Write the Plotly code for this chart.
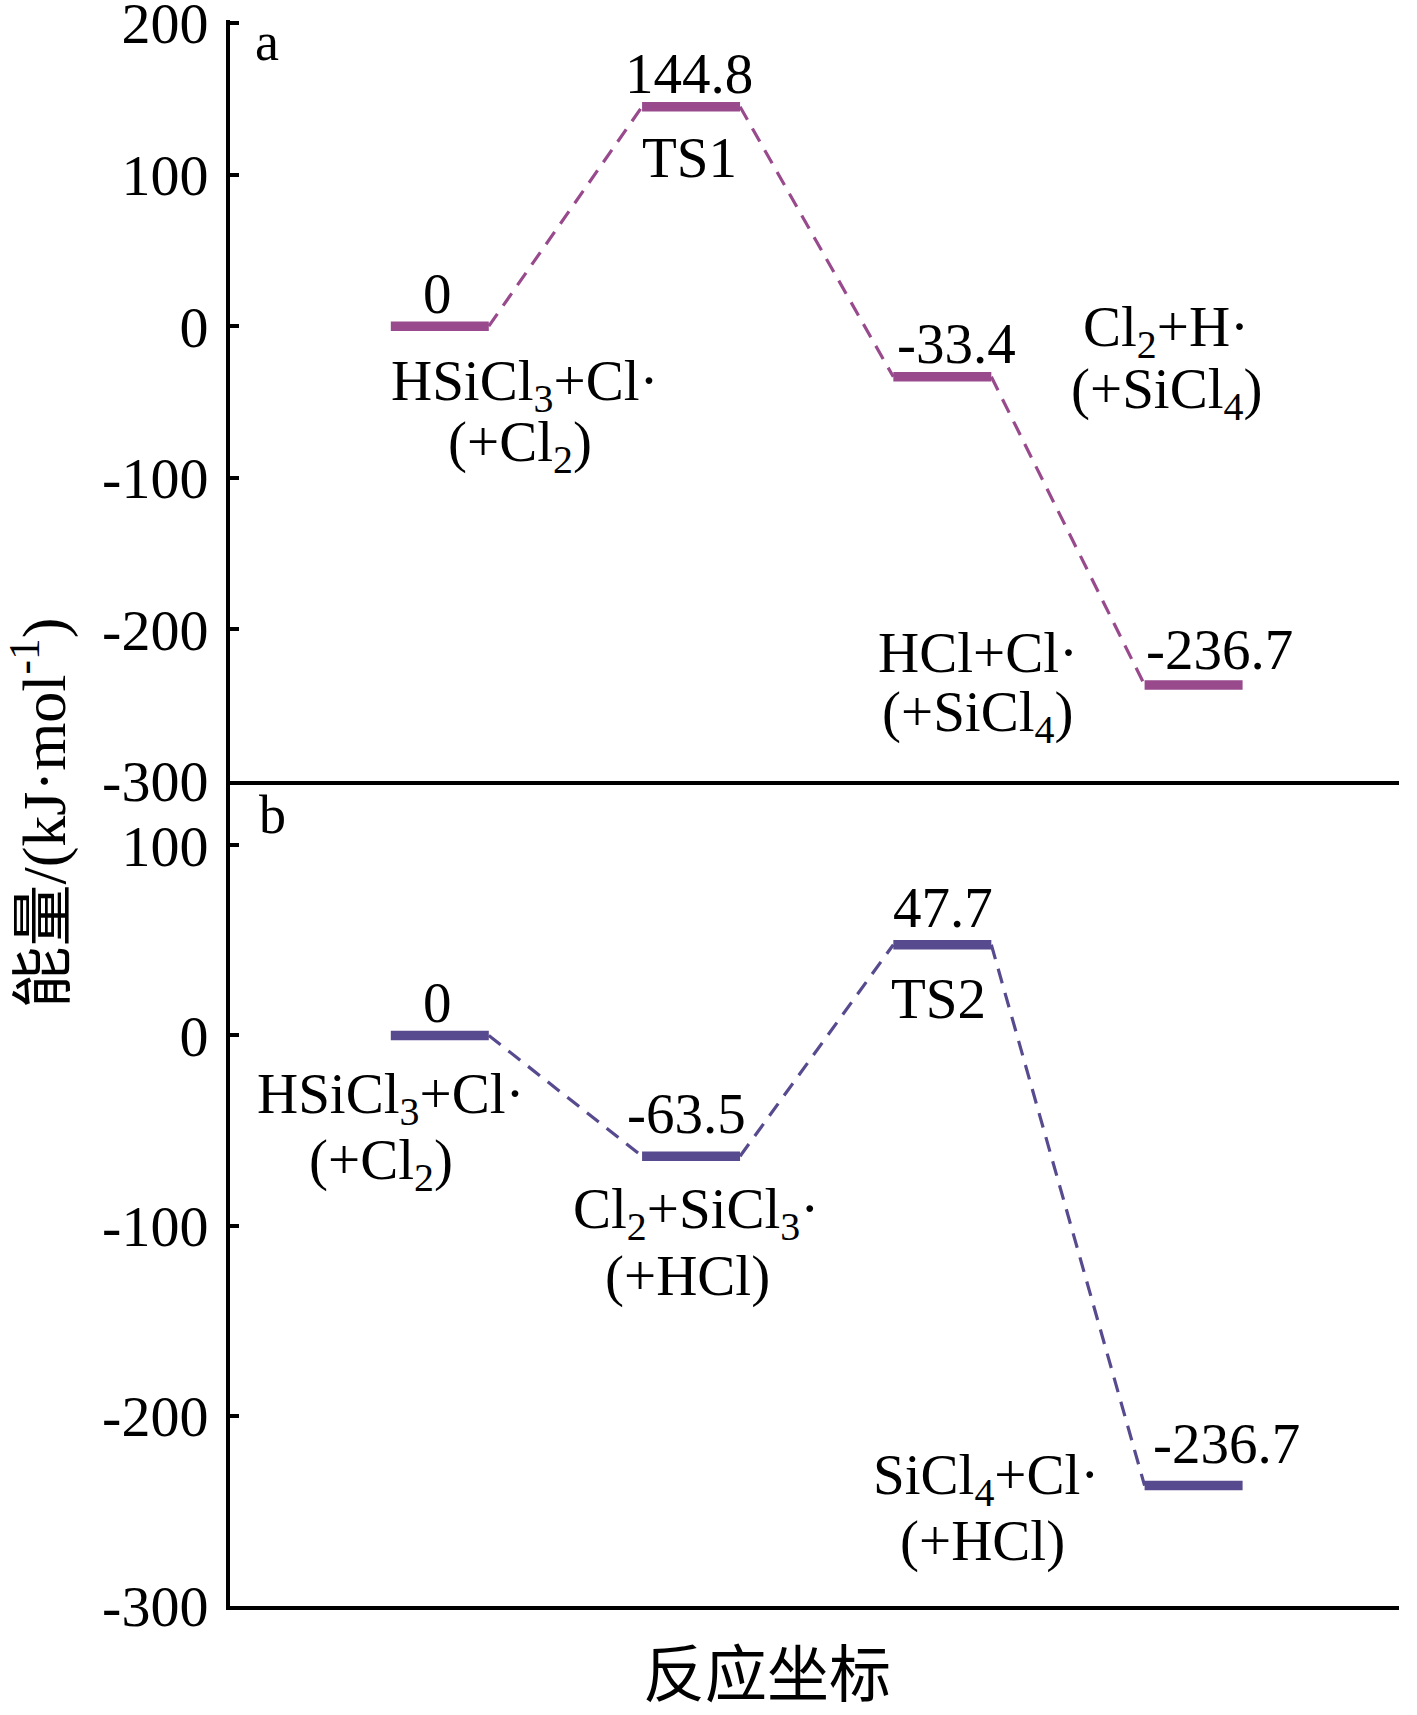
import plotly.graph_objects as go

# ---------------- data ----------------
stages = [1, 2, 3, 4]

energy_a = [0, 144.8, -33.4, -236.7]
value_labels_a = ["0", "144.8", "-33.4", "-236.7"]
species_a = [
    ["HSiCl<sub>3</sub>+Cl·", "(+Cl<sub>2</sub>)"],
    ["TS1"],
    ["Cl<sub>2</sub>+H·", "(+SiCl<sub>4</sub>)"],
    ["HCl+Cl·", "(+SiCl<sub>4</sub>)"],
]

energy_b = [0, -63.5, 47.7, -236.7]
value_labels_b = ["0", "-63.5", "47.7", "-236.7"]
species_b = [
    ["HSiCl<sub>3</sub>+Cl·", "(+Cl<sub>2</sub>)"],
    ["Cl<sub>2</sub>+SiCl<sub>3</sub>·", "(+HCl)"],
    ["TS2"],
    ["SiCl<sub>4</sub>+Cl·", "(+HCl)"],
]

y_ticks_a = [200, 100, 0, -100, -200, -300]
y_ticks_b = [100, 0, -100, -200, -300]

y_title = "能量/(kJ·mol<sup>-1</sup>)"
x_title = "反应坐标"
panel_tags = ["a", "b"]

# ---------------- style ----------------
COLOR_A = "#984A8D"
COLOR_B = "#584A8E"
HALF = 0.195
FONT = "Liberation Serif, Times New Roman, Noto Sans CJK SC, serif"
FS = 57

# pixel offsets (dx, dy_down) for labels
value_off_a = [(-2, -33), (-2, -33), (14, -33), (26, -36)]
species_off_a = [
    [(85, 59), (80, 120)],
    [(-2, 51)],
    [(224, -46), (224, 16)],
    [(-216, -33), (-216, 31)],
]
value_off_b = [(-2, -33), (-5, -43), (1, -37), (33, -42)]
species_off_b = [
    [(-49, 63), (-59, 129)],
    [(5, 57), (-4, 120)],
    [(-4, 54)],
    [(-208, -7), (-211, 55)],
]


def level_xy(xs, ys):
    lx, ly = [], []
    for x, y in zip(xs, ys):
        lx += [x - HALF, x + HALF, None]
        ly += [y, y, None]
    return lx, ly


def connector_xy(xs, ys):
    cx, cy = [], []
    for i in range(len(xs) - 1):
        cx += [xs[i] + HALF, xs[i + 1] - HALF, None]
        cy += [ys[i], ys[i + 1], None]
    return cx, cy


fig = go.Figure()

for ys, color, xax, yax in [(energy_a, COLOR_A, "x2", "y"), (energy_b, COLOR_B, "x", "y2")]:
    cx, cy = connector_xy(stages, ys)
    fig.add_trace(go.Scatter(x=cx, y=cy, mode="lines", xaxis=xax, yaxis=yax,
                             line=dict(color=color, width=3.2, dash="15px,10px"),
                             hoverinfo="skip", showlegend=False))
    lx, ly = level_xy(stages, ys)
    fig.add_trace(go.Scatter(x=lx, y=ly, mode="lines", xaxis=xax, yaxis=yax,
                             line=dict(color=color, width=9.5),
                             hoverinfo="skip", showlegend=False))


def add_labels(ys, vals, vals_off, species, species_off, xref, yref):
    for i, (x, y) in enumerate(zip(stages, ys)):
        dx, dy = vals_off[i]
        fig.add_annotation(x=x, y=y, xref=xref, yref=yref, text=vals[i],
                           showarrow=False, xanchor="center", yanchor="middle",
                           xshift=dx, yshift=-dy,
                           font=dict(family=FONT, size=FS, color="black"))
        for txt, (sdx, sdy) in zip(species[i], species_off[i]):
            fig.add_annotation(x=x, y=y, xref=xref, yref=yref, text=txt,
                               showarrow=False, xanchor="center", yanchor="middle",
                               xshift=sdx, yshift=-sdy,
                               font=dict(family=FONT, size=FS, color="black"))


add_labels(energy_a, value_labels_a, value_off_a, species_a, species_off_a, "x2", "y")
add_labels(energy_b, value_labels_b, value_off_b, species_b, species_off_b, "x", "y2")

split = 0.5202

# panel tags
fig.add_annotation(x=0.032, y=1.006, xref="paper", yref="paper", text=panel_tags[0],
                   showarrow=False, xanchor="center", yanchor="top",
                   font=dict(family=FONT, size=54, color="black"))
fig.add_annotation(x=0.036, y=split - 0.001, xref="paper", yref="paper", text=panel_tags[1],
                   showarrow=False, xanchor="center", yanchor="top",
                   font=dict(family=FONT, size=54, color="black"))

# axis titles
fig.add_annotation(x=-0.1638, y=0.5, xref="paper", yref="paper", text=y_title,
                   showarrow=False, textangle=-90, xanchor="center", yanchor="middle",
                   font=dict(family=FONT, size=62, color="black"))
fig.add_annotation(x=0.459, y=-0.0405, xref="paper", yref="paper", text=x_title,
                   showarrow=False, xanchor="center", yanchor="middle",
                   font=dict(family="Noto Sans CJK SC", size=62, color="black"))

axis_common = dict(showgrid=False, zeroline=False, showline=True, linecolor="black",
                   linewidth=4, automargin=False)

fig.update_layout(
    width=1417, height=1715,
    margin=dict(l=230, r=18, t=20, b=109),
    paper_bgcolor="white", plot_bgcolor="white",
    xaxis=dict(range=[0.165, 4.8175], anchor="y2", showticklabels=False, ticks="",
               **axis_common),
    xaxis2=dict(range=[0.165, 4.8175], anchor="y", matches="x", showticklabels=False,
                ticks="", **axis_common),
    yaxis=dict(domain=[split, 1], range=[-300, 202], anchor="x2",
               tickvals=y_ticks_a, ticktext=[str(v) for v in y_ticks_a],
               ticks="inside", ticklen=9, tickwidth=4, tickcolor="black",
               ticklabelstandoff=6, ticklabeloverflow="allow",
               tickfont=dict(family=FONT, size=58, color="black"), **axis_common),
    yaxis2=dict(domain=[0, split], range=[-300, 133.8], anchor="x",
                tickvals=y_ticks_b, ticktext=[str(v) for v in y_ticks_b],
                ticks="inside", ticklen=9, tickwidth=4, tickcolor="black",
                ticklabelstandoff=6, ticklabeloverflow="allow",
                tickfont=dict(family=FONT, size=58, color="black"), **axis_common),
)

# remove the browser's default 8px body margin so the figure sits at the page origin
fig.write_html("out.html", config={"displayModeBar": False},
               post_script="document.body.style.margin='0px';")
